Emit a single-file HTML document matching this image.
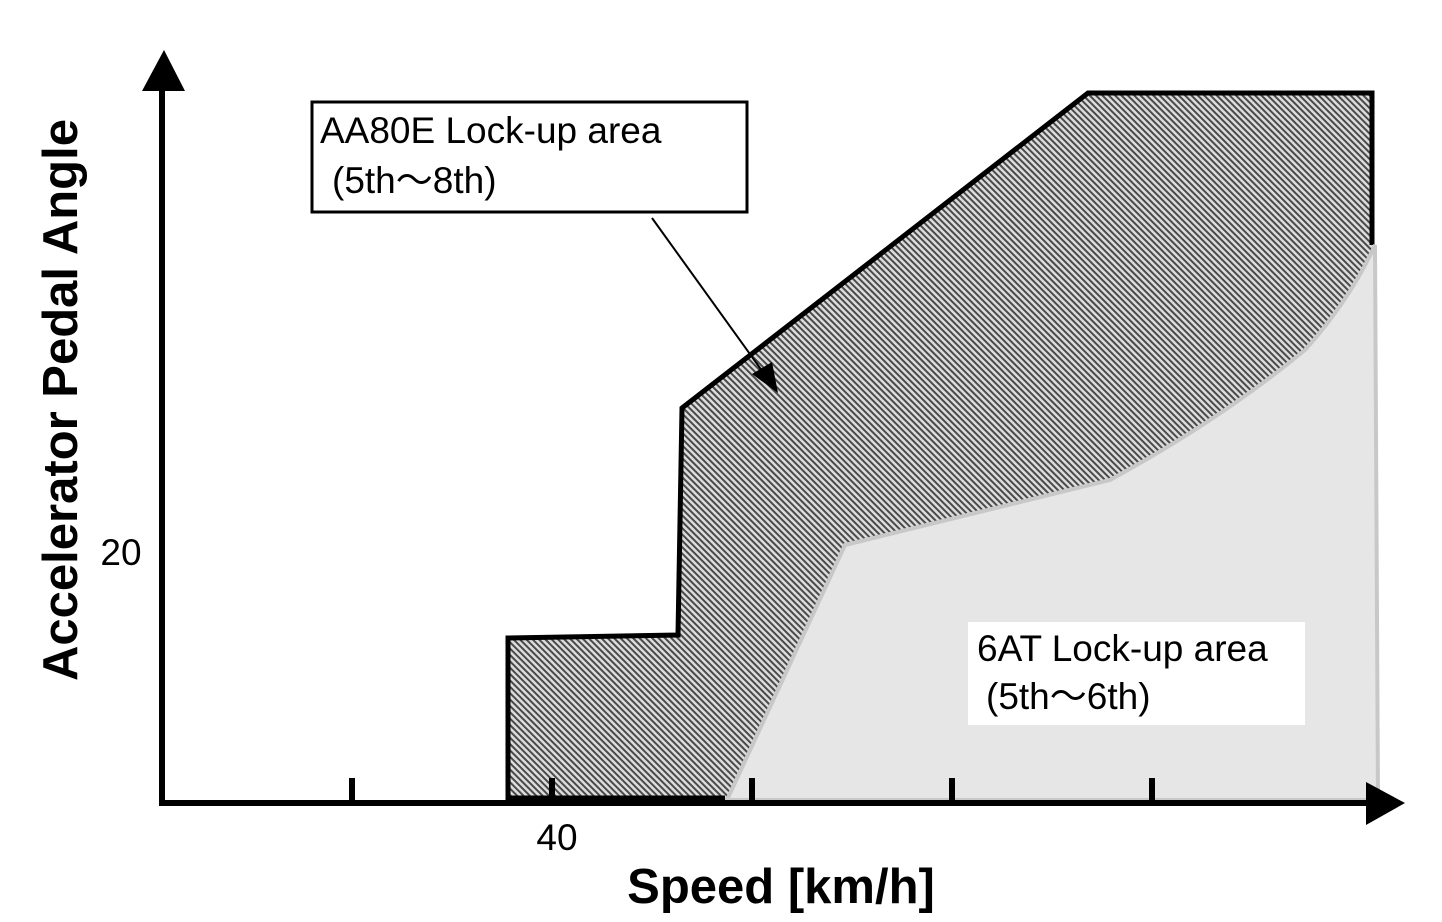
<!DOCTYPE html>
<html><head><meta charset="utf-8"><style>
html,body{margin:0;padding:0;background:#fff;}
svg{display:block;}
text{font-family:"Liberation Sans",Arial,sans-serif;}
</style></head><body>
<svg width="1442" height="922" viewBox="0 0 1442 922" xmlns="http://www.w3.org/2000/svg">
<defs>
<pattern id="h" width="4.5" height="4.5" patternUnits="userSpaceOnUse" patternTransform="rotate(-45)">
<rect width="4.5" height="4.5" fill="#dcdcdc"/>
<rect width="2" height="4.5" fill="#4a4a4a"/>
</pattern>
</defs>
<rect width="1442" height="922" fill="#fff"/>
<polygon points="508,800 508,638 678,635 682,408 1088,93 1372,93 1372,245 1378,800" fill="url(#h)"/>
<polyline points="508,800 508,638 678,635 682,408 1088,93 1372,93 1372,245" fill="none" stroke="#000" stroke-width="5" stroke-linejoin="miter"/>
<line x1="508" y1="798" x2="725" y2="798" stroke="#000" stroke-width="5"/>
<path d="M727,800 L845,545 L1110,480 Q1220,420 1305,350 Q1350,300 1375,245 L1378,800 Z" fill="#e6e6e6" stroke="#c8c8c8" stroke-width="4"/>
<rect x="968" y="622" width="337" height="103" fill="#fff"/>
<text x="977" y="661" font-size="37" fill="#000">6AT Lock-up area</text>
<text x="986" y="709" font-size="37" fill="#000">(5th～6th)</text>
<rect x="312" y="102" width="435" height="110" fill="#fff" stroke="#000" stroke-width="3"/>
<text x="320" y="143" font-size="37" fill="#000">AA80E Lock-up area</text>
<text x="332" y="193" font-size="37" fill="#000">(5th～8th)</text>
<line x1="652" y1="218" x2="765" y2="375" stroke="#000" stroke-width="2"/>
<polygon points="778,393 752,374 772,362" fill="#000"/>
<line x1="162" y1="88" x2="162" y2="806" stroke="#000" stroke-width="6"/>
<polygon points="164,50 142,91 185,91" fill="#000"/>
<line x1="159" y1="803" x2="1372" y2="803" stroke="#000" stroke-width="6"/>
<polygon points="1405,803 1366,782 1366,825" fill="#000"/>
<g stroke="#000" stroke-width="6">
<line x1="352" y1="778" x2="352" y2="803"/>
<line x1="552" y1="778" x2="552" y2="803"/>
<line x1="752" y1="778" x2="752" y2="803"/>
<line x1="952" y1="778" x2="952" y2="803"/>
<line x1="1152" y1="778" x2="1152" y2="803"/>
</g>
<text x="121" y="565" font-size="37" text-anchor="middle">20</text>
<text x="557" y="850" font-size="37" text-anchor="middle">40</text>
<text x="781" y="903" font-size="49" font-weight="bold" text-anchor="middle">Speed [km/h]</text>
<text transform="translate(77,400) rotate(-90)" font-size="49" font-weight="bold" text-anchor="middle">Accelerator Pedal Angle</text>
</svg>
</body></html>
